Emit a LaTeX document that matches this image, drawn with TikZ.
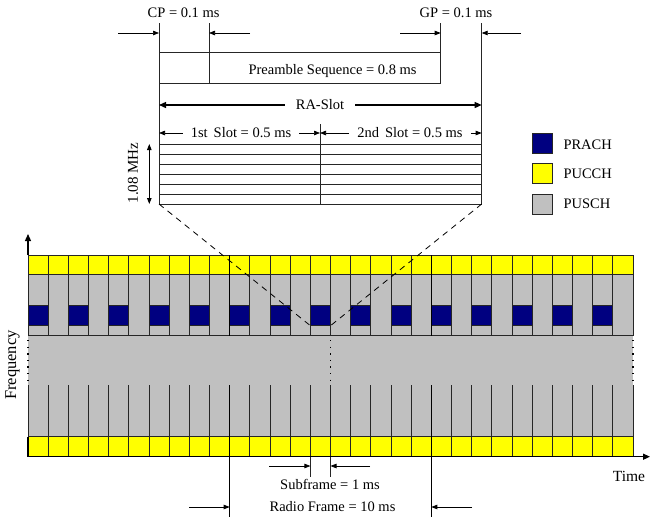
\documentclass[tikz,border=0pt]{standalone}
\usepackage{fontspec}
\setmainfont{Liberation Serif}
\usetikzlibrary{arrows.meta, calc}
\definecolor{prach}{RGB}{0,0,128}
\definecolor{pucch}{RGB}{255,255,0}
\definecolor{pusch}{RGB}{192,192,192}

\begin{document}
\begin{tikzpicture}[x=1pt, y=-1pt, font=\fontsize{14.5}{16}\selectfont,
  cell/.style={draw=black!85, line width=0.7pt},
  frame/.style={line width=1.2pt},
  ar/.style={-{Triangle[length=6pt,width=4.5pt]}, line width=0.7pt},
  bar/.style={-{Triangle[length=7pt,width=6pt]}, line width=1.3pt},
  legbox/.style={draw=black!85, line width=0.9pt, minimum size=20pt, inner sep=0pt},
  lbl/.style={inner sep=0pt}]
\useasboundingbox (0,0) rectangle (650,517);
\def\cw{20.1667}

% grid
\fill[pusch] (28,274) rectangle (633,436.7);
\foreach \i in {0,...,29}{
  \draw[cell, fill=pucch] ({28+\i*\cw},255) rectangle ++(\cw,19.3);
  \draw[cell, fill=pucch] ({28+\i*\cw},436.7) rectangle ++(\cw,20);
}
\foreach \i in {0,2,...,28}
  \draw[cell, fill=prach] ({28+\i*\cw},305) rectangle ++(\cw,20.7);
\foreach \i in {1,...,29}{
  \draw[cell] ({28+\i*\cw},274) -- ++(0,61.7);
  \draw[cell] ({28+\i*\cw},385) -- ++(0,51.7);
}
\draw[cell] (28,274) rectangle (633,335.7);
\draw[cell] (28,385) -- (28,436.7) (633,385) -- (633,436.7);
\foreach \x in {28,330.5,633}
  \draw[line width=1.4pt, dash pattern=on 1.4pt off 5.2pt] (\x,340) -- (\x,385);
\foreach \x in {229.7,431.3}{
  \draw[frame] (\x,255) -- (\x,335.7);
  \draw[frame] (\x,385) -- (\x,517);
}

% axes
\coordinate (org) at (28,456.7);
\coordinate (ytop) at (28,234);
\coordinate (xend) at (650,456.7);
\draw[bar] (28,255) -- (ytop);
\draw[line width=1.3pt] (28,436.7) -- (org);
\draw[bar] (org) -- (xend);
\node[lbl, rotate=90, font=\fontsize{16.5}{18}\selectfont] at (12.5,365) (freq) {Frequency};
\node[lbl, font=\fontsize{15.5}{17}\selectfont] at (629,476) (time) {Time};

% subframe / radio frame
\draw[cell] (310.4,456.7) -- (310.4,476.7) (330.5,456.7) -- (330.5,476.7);
\coordinate (sfL) at (310.4,466);
\coordinate (sfR) at (330.5,466);
\draw[ar] (269,466) -- (sfL);
\draw[ar] (370,466) -- (sfR);
\node[lbl] at (330,484.5) (sf) {Subframe = 1 ms};
\coordinate (rfL) at (229.7,507);
\coordinate (rfR) at (431.3,507);
\draw[ar] (189,507) -- (rfL);
\draw[ar] (472,507) -- (rfR);
\node[lbl] at (332.5,506.5) (rf) {Radio Frame = 10 ms};

% preamble block
\coordinate (cpL) at (159,23);
\coordinate (cpR) at (209,23);
\coordinate (gpL) at (440.7,23);
\coordinate (gpR) at (481.7,23);
\draw[cell] (cpL) -- (159,204);
\draw[cell] (gpR) -- (481.7,204);
\draw[cell] (cpR) -- (209,83);
\draw[cell] (gpL) -- (440.7,83);
\draw[cell] (159,52.7) -- (440.7,52.7) (159,83) -- (440.7,83);
\node[lbl] at (183.6,13) (cp) {CP = 0.1 ms};
\node[lbl] at (456,13) (gp) {GP = 0.1 ms};
\draw[ar] (118,33) -- (159,33);
\draw[ar] (250,33) -- (209,33);
\draw[ar] (400,33) -- (440.7,33);
\draw[ar] (521,33) -- (481.7,33);
\node[lbl] at (332.6,71) (pre) {Preamble Sequence = 0.8 ms};

\node[lbl, inner xsep=11pt] at (320,105) (ra) {RA-Slot};
\draw[bar] (ra.west) -- (159,105);
\draw[bar] (ra.east) -- (481.7,105);

\draw[cell] (320,124) -- (320,204);
\node[lbl, inner xsep=8pt] at (241,133) (s1) {1st\, Slot = 0.5 ms};
\node[lbl, inner xsep=8pt] at (410,133) (s2) {2nd\, Slot = 0.5 ms};
\draw[ar] (s1.west) -- (159,133);
\draw[ar] (s1.east) -- (320,133);
\draw[ar] (s2.west) -- (320,133);
\draw[ar] (s2.east) -- (481.7,133);

\foreach \y in {144,154,...,204}
  \draw[cell] (159,\y) -- (481.7,\y);
\draw[ar, {Triangle[length=6pt,width=4.5pt]}-{Triangle[length=6pt,width=4.5pt]}, line width=1pt] (149.3,144) -- (149.3,204);
\node[lbl, rotate=90, font=\fontsize{15}{17}\selectfont] at (133,173) (bw) {1.08 MHz};

% zoom lines
\draw[dashed, line width=0.8pt, dash pattern=on 6pt off 5pt] (159,204) -- (310.4,325.7);
\draw[dashed, line width=0.8pt, dash pattern=on 6pt off 5pt] (481.7,204) -- (330.5,325.7);

% legend
\node[legbox, fill=prach] at (542,143.7) (lp) {};
\node[legbox, fill=pucch] at (542,173.7) (lc) {};
\node[legbox, fill=pusch] at (542,204.3) (ls) {};
\node[lbl, anchor=west] at (563.3,144.3) (tp) {PRACH};
\node[lbl, anchor=west] at (563.3,173.3) (tc) {PUCCH};
\node[lbl, anchor=west] at (563.3,203.3) (ts) {PUSCH};
\end{tikzpicture}
\end{document}
